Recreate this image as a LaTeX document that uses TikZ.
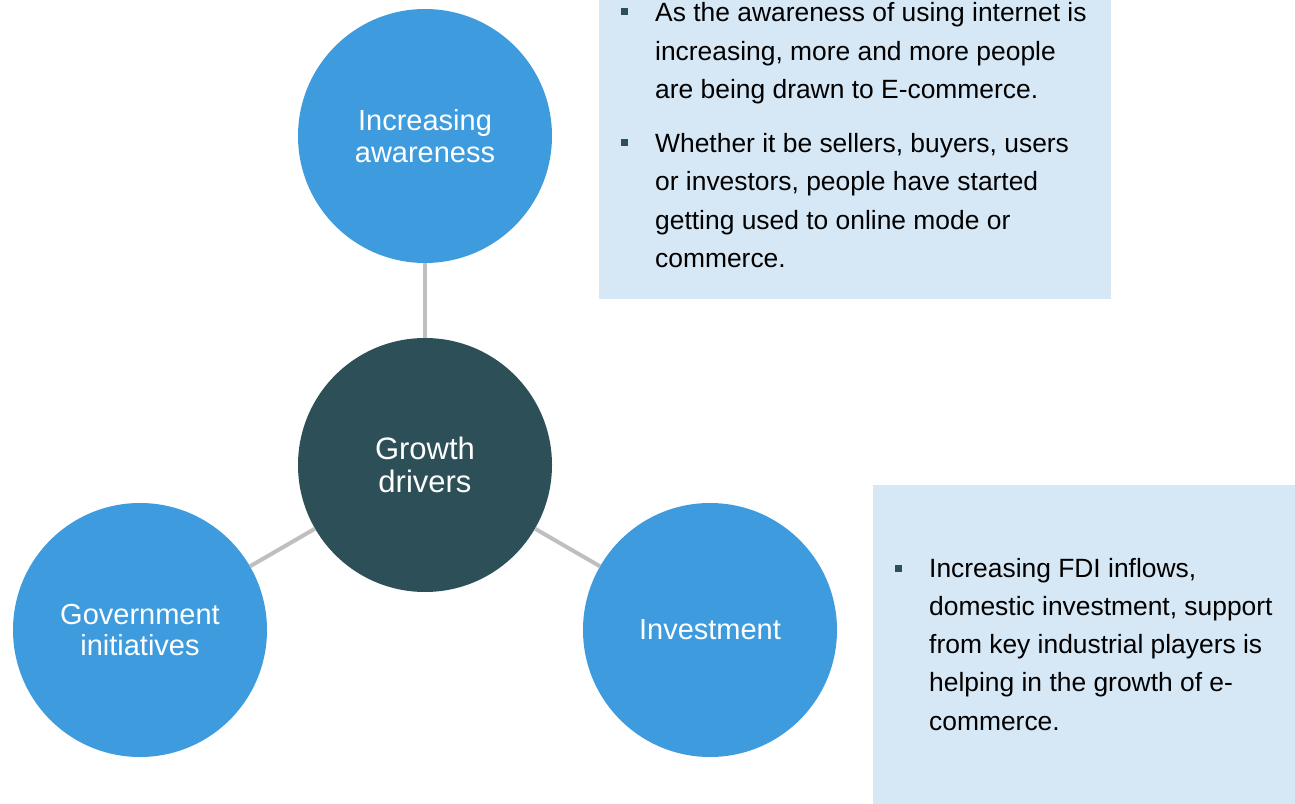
\documentclass[tikz,border=0pt]{standalone}
\usepackage{fontspec}
\setmainfont{Liberation Sans}
\definecolor{cblue}{HTML}{3E9CDE}
\definecolor{cdark}{HTML}{2D4F57}
\definecolor{cbox}{HTML}{D6E7F5}
\definecolor{cline}{HTML}{BFBFBF}
\begin{document}
\begin{tikzpicture}[x=1bp,y=-1bp,
  circ/.style={circle,minimum size=254bp,inner sep=0pt,fill=cblue,text=white,align=center,
    font=\fontsize{29bp}{31.5bp}\selectfont},
  hub/.style={circ,fill=cdark,font=\fontsize{31bp}{33bp}\selectfont},
  conn/.style={draw=cline,line width=4bp},
  infobox/.style={rectangle,fill=cbox,inner sep=0pt,anchor=north west},
  bul/.style={rectangle,fill=cdark,minimum size=7bp,inner sep=0pt},
  txt/.style={anchor=base west,inner sep=0pt,text=black,font=\fontsize{26.4bp}{38.5bp}\selectfont}]
\useasboundingbox (0,0) rectangle (1295,804);
% boxes
\node[infobox,minimum width=512bp,minimum height=299bp] (box1) at (599,0) {};
\node[infobox,minimum width=422bp,minimum height=319bp] (box2) at (873,485) {};
% circles
\node[circ] (aw) at (425,136) {Increasing\\awareness};
\node[hub] (gd) at (425,465) {Growth\\drivers};
\node[circ] (gov) at (140,630) {Government\\initiatives};
\node[circ] (inv) at (710,630) {Investment};
% connectors
\draw[conn] (gd) -- (aw);
\draw[conn] (gd) -- (gov);
\draw[conn] (gd) -- (inv);
% top box text
\node[bul] (bu1) at (624,12) {};
\node[bul] (bu2) at (624,142) {};
\foreach \t [count=\i] in {{As the awareness of using internet is},{increasing, more and more people},{are being drawn to E-commerce.}}
  \node[txt] (ta\i) at (655,{22+(\i-1)*38.5}) {\t};
\foreach \t [count=\i] in {{Whether it be sellers, buyers, users},{or investors, people have started},{getting used to online mode or},{commerce.}}
  \node[txt] (tb\i) at (655,{152+(\i-1)*38.5}) {\t};
% bottom box text
\node[bul] (bu3) at (898.5,568) {};
\foreach \t [count=\i] in {{Increasing FDI inflows,},{domestic investment, support},{from key industrial players is},{helping in the growth of e-},{commerce.}}
  \node[txt] (tc\i) at (929,{577+(\i-1)*38.3}) {\t};
\end{tikzpicture}
\end{document}
